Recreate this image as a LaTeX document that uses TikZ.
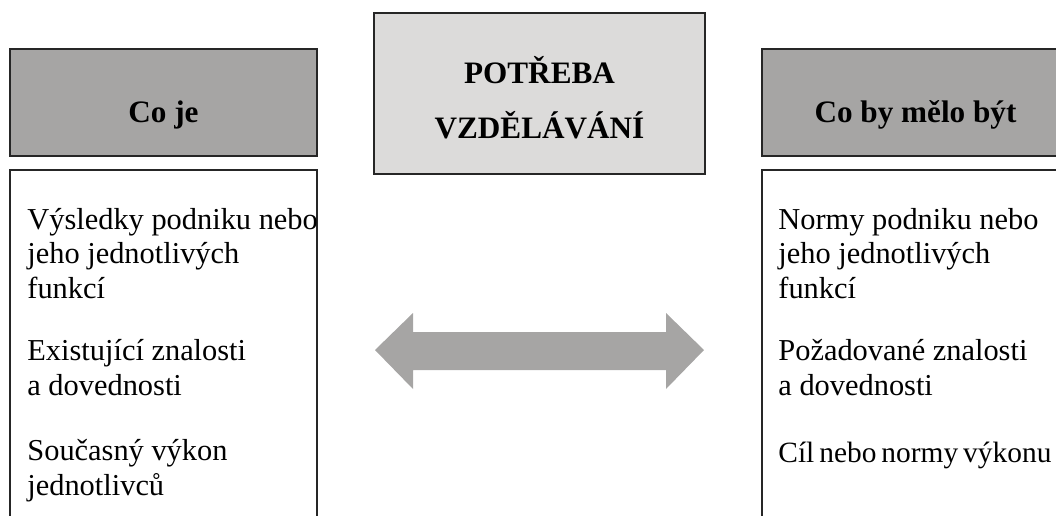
\documentclass[tikz,border=0pt]{standalone}
\usepackage{fontspec}
\setmainfont{Liberation Serif}
\definecolor{hdrgray}{HTML}{A6A5A4}
\definecolor{midgray}{HTML}{DCDBDA}
\definecolor{arrgray}{HTML}{A6A5A4}
\begin{document}
\begin{tikzpicture}[x=0.5pt,y=-0.5pt,
  hdrbox/.style={draw=black!85,line width=0.6pt,fill=hdrgray,minimum width=153.5pt,minimum height=53.5pt,inner sep=0pt},
  midbox/.style={draw=black!85,line width=0.6pt,fill=midgray,minimum width=165.5pt,minimum height=80.5pt,inner sep=0pt},
  hdrtext/.style={anchor=base,inner sep=0pt,font=\fontsize{15.6}{18}\selectfont\bfseries},
  body/.style={anchor=base west,inner sep=0pt,align=left,font=\fontsize{15.2}{17.2}\selectfont},
  frame/.style={draw=black!85,line width=0.6pt}]
\useasboundingbox (0,0) rectangle (1056,515);
% headers
\node[hdrbox] (coje) at (163.5,102.5) {};
\node[hdrtext] (cojet) at (163.5,122) {Co je};
\node[hdrbox] (cobyt) at (915.5,102.5) {};
\node[hdrtext] (cobytt) at (915.5,122) {Co by mělo být};
\node[midbox] (potr) at (539.5,93.5) {};
\node[hdrtext] (potr1) at (539.5,83) {POTŘEBA};
\node[hdrtext] (potr2) at (539.5,138) {VZDĚLÁVÁNÍ};
% content frames (open at the bottom)
\draw[frame] (10,530) -- (10,170) -- (317,170) -- (317,530);
\draw[frame] (762,530) -- (762,170) -- (1075,170) -- (1075,530);
% left texts (anchor = baseline of last line)
\node[body] (l1) at (27,298) {Výsledky podniku nebo\\jeho jednotlivých\\funkcí};
\node[body] (l2) at (27,395) {Existující znalosti\\a dovednosti};
\node[body] (l3) at (27,495) {Současný výkon\\jednotlivců};
% right texts
\node[body] (r1) at (778,298) {Normy podniku nebo\\jeho jednotlivých\\funkcí};
\node[body] (r2) at (778,395) {Požadované znalosti\\a dovednosti};
\node[body,font=\fontsize{14.7}{17.2}\selectfont] (r3) at (778,462) {\spaceskip=0.17em Cíl nebo normy výkonu};
% double arrow
\fill[arrgray] (375,350) -- (413,313) -- (413,332) -- (666,332) -- (666,313) -- (704,350)
  -- (666,389) -- (666,370) -- (413,370) -- (413,389) -- cycle;
\end{tikzpicture}
\end{document}
